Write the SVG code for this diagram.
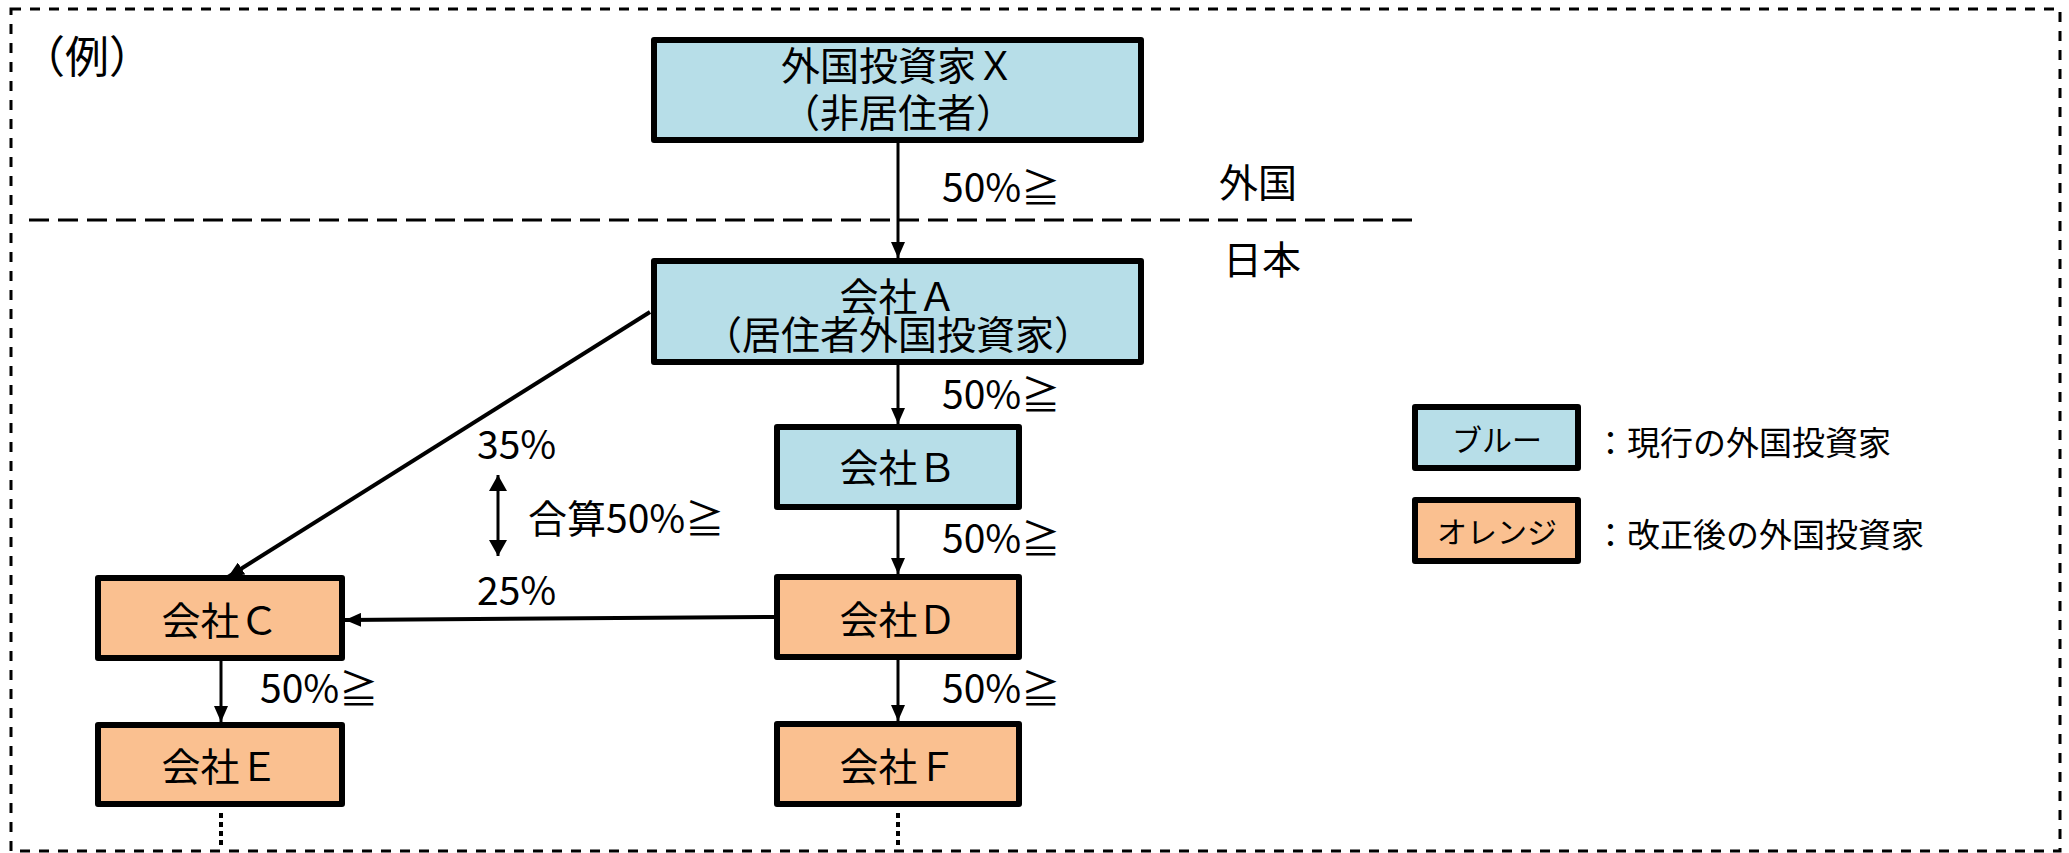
<svg xmlns="http://www.w3.org/2000/svg" width="2069" height="853" viewBox="0 0 2069 853">
<style>
text{font-family:"Noto Sans CJK JP","Noto Sans",sans-serif;fill:#000;}
.t{font-size:39px;}
.c{text-anchor:middle;}
.lg{font-size:33px;}
.lb{font-size:30px;}
.box{stroke:#000;stroke-width:6;stroke-linejoin:round;}
.blue{fill:#B7DEE8;}
.orange{fill:#FAC090;}
.ln{stroke:#000;fill:none;}
</style>
<defs>
<marker id="ah" markerUnits="userSpaceOnUse" markerWidth="16" markerHeight="14" refX="16" refY="7" orient="auto">
<path d="M0,0 L16,7 L0,14 z" fill="#000"/>
</marker>
<marker id="ah2" markerUnits="userSpaceOnUse" markerWidth="16" markerHeight="18" refX="16" refY="9" orient="auto-start-reverse">
<path d="M0,0 L16,9 L0,18 z" fill="#000"/>
</marker>
</defs>
<rect x="11" y="9" width="2049" height="842" fill="none" stroke="#000" stroke-width="3" stroke-dasharray="10 9"/>
<line x1="29" y1="220" x2="1412" y2="220" stroke="#000" stroke-width="3" stroke-dasharray="20 9"/>
<text x="21" y="73" font-size="44">（例）</text>
<text class="t" x="1219" y="197">外国</text>
<text class="t" x="1223" y="274">日本</text>
<g id="connectors">
<line class="ln" x1="898" y1="143" x2="898" y2="258" stroke-width="3" marker-end="url(#ah)"/>
<line class="ln" x1="898" y1="365" x2="898" y2="424" stroke-width="3" marker-end="url(#ah)"/>
<line class="ln" x1="898" y1="510" x2="898" y2="574" stroke-width="3" marker-end="url(#ah)"/>
<line class="ln" x1="898" y1="660" x2="898" y2="721" stroke-width="3" marker-end="url(#ah)"/>
<line class="ln" x1="221" y1="661" x2="221" y2="722" stroke-width="3" marker-end="url(#ah)"/>
<line class="ln" x1="650" y1="312" x2="228" y2="577" stroke-width="4" marker-end="url(#ah)"/>
<line class="ln" x1="774" y1="617" x2="345" y2="620" stroke-width="4" marker-end="url(#ah)"/>
<line class="ln" x1="498" y1="475" x2="498" y2="556" stroke-width="3" marker-start="url(#ah2)" marker-end="url(#ah2)"/>
<line class="ln" x1="221" y1="813" x2="221" y2="845" stroke-width="4" stroke-dasharray="5 4"/>
<line class="ln" x1="898" y1="813" x2="898" y2="845" stroke-width="4" stroke-dasharray="5 4"/>
<text class="t" x="942" y="202">50%≧</text>
<text class="t" x="942" y="409">50%≧</text>
<text class="t" x="942" y="553">50%≧</text>
<text class="t" x="942" y="703">50%≧</text>
<text class="t" x="260" y="703">50%≧</text>
<text class="t" x="477" y="459">35%</text>
<text class="t" x="528" y="533">合算50%≧</text>
<text class="t" x="477" y="605">25%</text>
</g>
<g id="nodeX">
<rect class="box blue" x="654" y="40" width="487" height="100"/>
<text class="t c" x="898" y="80">外国投資家Ｘ<tspan x="898" y="127">（非居住者）</tspan></text>
</g>
<g id="nodeA">
<rect class="box blue" x="654" y="261" width="487" height="101"/>
<text class="t c" x="898" y="311">会社Ａ<tspan x="898" y="349">（居住者外国投資家）</tspan></text>
</g>
<g id="nodeB">
<rect class="box blue" x="777" y="427" width="242" height="80"/>
<text class="t c" x="898" y="482">会社Ｂ</text>
</g>
<g id="nodeD">
<rect class="box orange" x="777" y="577" width="242" height="80"/>
<text class="t c" x="898" y="634">会社Ｄ</text>
</g>
<g id="nodeF">
<rect class="box orange" x="777" y="724" width="242" height="80"/>
<text class="t c" x="898" y="781">会社Ｆ</text>
</g>
<g id="nodeC">
<rect class="box orange" x="98" y="578" width="244" height="80"/>
<text class="t c" x="220" y="635">会社Ｃ</text>
</g>
<g id="nodeE">
<rect class="box orange" x="98" y="725" width="244" height="79"/>
<text class="t c" x="220" y="781">会社Ｅ</text>
</g>
<g id="legend">
<rect class="box blue" x="1415" y="407" width="163" height="61"/>
<text class="lb c" x="1497" y="451">ブルー</text>
<text class="lg" x="1594" y="455">：現行の外国投資家</text>
<rect class="box orange" x="1415" y="500" width="163" height="61"/>
<text class="lb c" x="1497" y="543">オレンジ</text>
<text class="lg" x="1594" y="547">：改正後の外国投資家</text>
</g>
</svg>
